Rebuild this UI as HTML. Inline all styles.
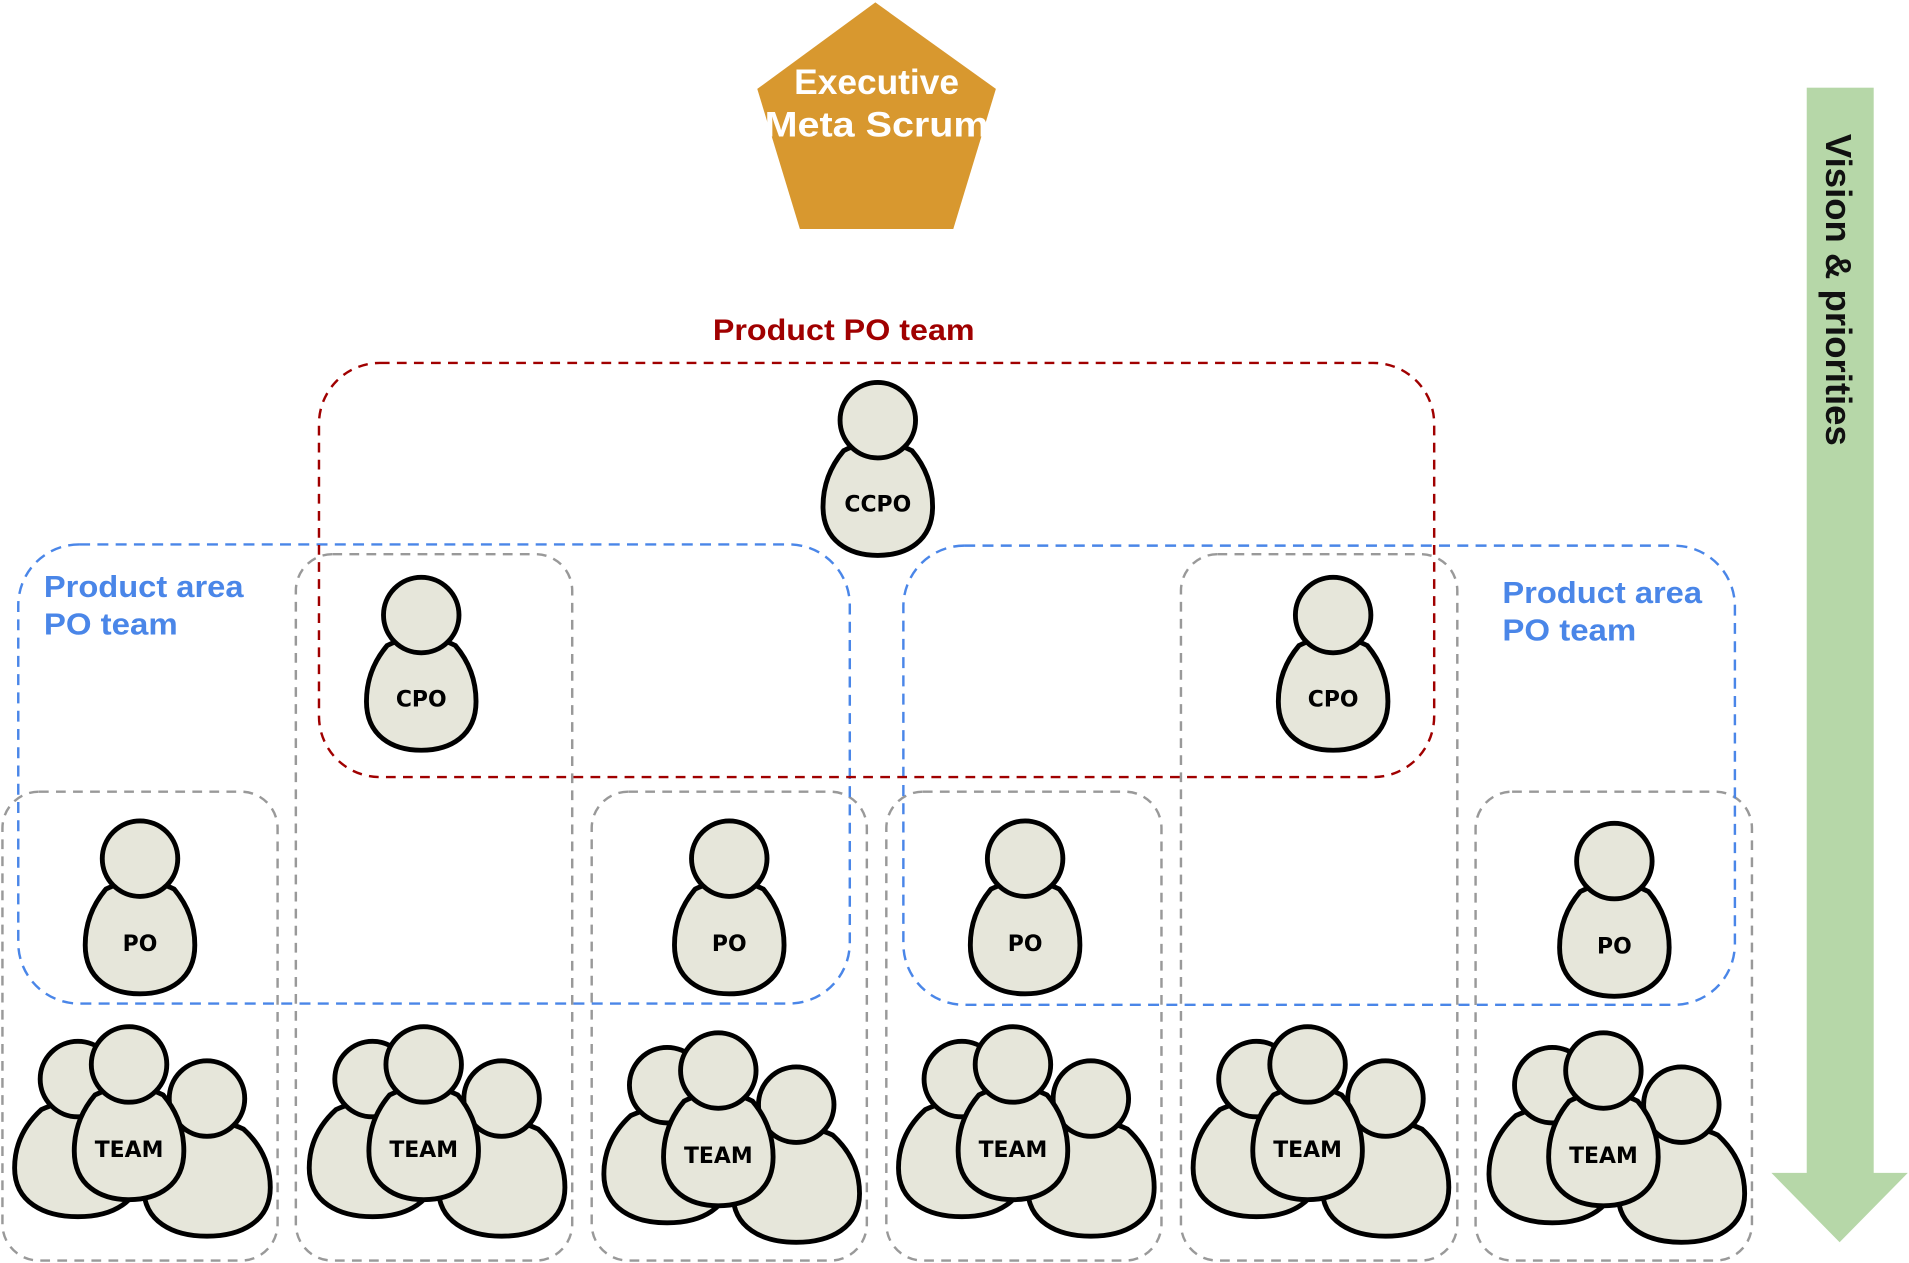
<!DOCTYPE html>
<html><head><meta charset="utf-8"><style>
html,body{margin:0;padding:0;background:#fff;}
svg{display:block;}
.lbl{font-family:"DejaVu Sans","Liberation Sans",sans-serif;font-weight:bold;font-size:18px;text-anchor:middle;fill:#000;}
</style></head><body>
<svg width="1909" height="1263" viewBox="0 0 1568 1037" preserveAspectRatio="none" xmlns="http://www.w3.org/2000/svg">
<defs>
<g id="p">
<path d="M-28,-42 Q-45,-22 -45,4 C-45,32 -24,44 0,44 C24,44 45,32 45,4 Q45,-22 28,-42 Q0,-56 -28,-42 Z" fill="#e6e6da" stroke="#000" stroke-width="4"/>
<circle cx="0" cy="-67" r="31" fill="#e6e6da" stroke="#000" stroke-width="4"/>
</g>
<g id="pw">
<path d="M-30,-42 Q-52,-22 -52,6 C-52,34 -28,46 0,46 C28,46 52,34 52,6 Q52,-22 30,-42 Q0,-56 -30,-42 Z" fill="#e6e6da" stroke="#000" stroke-width="4"/>
<circle cx="0" cy="-67" r="31" fill="#e6e6da" stroke="#000" stroke-width="4"/>
</g>
</defs>

<polygon points="719,2 818,73 783,188 657,188 622,73" fill="#d8982f"/>
<text x="720" y="77" font-family="Liberation Sans, sans-serif" font-weight="bold" font-size="29" fill="#fff" text-anchor="middle">Executive</text>
<text x="720" y="112" font-family="Liberation Sans, sans-serif" font-weight="bold" font-size="29" fill="#fff" text-anchor="middle" textLength="184" lengthAdjust="spacingAndGlyphs">Meta Scrum</text>

<rect x="1484" y="72" width="55" height="893" fill="#b6d7a8"/>
<polygon points="1455,963 1567,963 1511,1020" fill="#b6d7a8"/>
<text transform="translate(1500,238) rotate(90)" font-family="Liberation Sans, sans-serif" font-weight="bold" font-size="30" fill="#111" text-anchor="middle">Vision &amp; priorities</text>

<g fill="none" stroke="#999" stroke-width="2" stroke-dasharray="8,6">
<rect x="2" y="650" width="226" height="385" rx="30"/>
<rect x="243" y="455" width="227" height="580" rx="30"/>
<rect x="486" y="650" width="226" height="385" rx="30"/>
<rect x="728" y="650" width="226" height="385" rx="30"/>
<rect x="970" y="455" width="227" height="580" rx="30"/>
<rect x="1212" y="650" width="227" height="385" rx="30"/>
</g>

<g fill="none" stroke="#4a86e8" stroke-width="2" stroke-dasharray="9,6">
<rect x="15" y="447" width="683" height="377" rx="50"/>
<rect x="742" y="448" width="683" height="377" rx="50"/>
</g>
<g font-family="Liberation Sans, sans-serif" font-weight="bold" font-size="25" fill="#4a86e8">
<text x="36" y="490" textLength="164" lengthAdjust="spacingAndGlyphs">Product area</text>
<text x="36" y="521" textLength="110" lengthAdjust="spacingAndGlyphs">PO team</text>
<text x="1234" y="495" textLength="164" lengthAdjust="spacingAndGlyphs">Product area</text>
<text x="1234" y="526" textLength="110" lengthAdjust="spacingAndGlyphs">PO team</text>
</g>

<rect x="262" y="298" width="916" height="340" rx="50" fill="none" stroke="#a00000" stroke-width="2" stroke-dasharray="8,6"/>
<text x="693" y="279" font-family="Liberation Sans, sans-serif" font-weight="bold" font-size="24" fill="#a00000" text-anchor="middle" textLength="215" lengthAdjust="spacingAndGlyphs">Product PO team</text>

<use href="#p" x="721" y="412"/><text class="lbl" x="721" y="420">CCPO</text>
<use href="#p" x="346" y="572"/><text class="lbl" x="346" y="580">CPO</text>
<use href="#p" x="1095" y="572"/><text class="lbl" x="1095" y="580">CPO</text>
<use href="#p" x="115" y="772"/><text class="lbl" x="115" y="781">PO</text>
<use href="#p" x="599" y="772"/><text class="lbl" x="599" y="781">PO</text>
<use href="#p" x="842" y="772"/><text class="lbl" x="842" y="781">PO</text>
<use href="#p" x="1326" y="774"/><text class="lbl" x="1326" y="783">PO</text>

<g transform="translate(106,943)"><use href="#pw" x="-42" y="10"/><use href="#pw" x="64" y="26"/><use href="#p" x="0" y="-2"/><text class="lbl" x="0" y="7">TEAM</text></g>
<g transform="translate(348,943)"><use href="#pw" x="-42" y="10"/><use href="#pw" x="64" y="26"/><use href="#p" x="0" y="-2"/><text class="lbl" x="0" y="7">TEAM</text></g>
<g transform="translate(590,948)"><use href="#pw" x="-42" y="10"/><use href="#pw" x="64" y="26"/><use href="#p" x="0" y="-2"/><text class="lbl" x="0" y="7">TEAM</text></g>
<g transform="translate(832,943)"><use href="#pw" x="-42" y="10"/><use href="#pw" x="64" y="26"/><use href="#p" x="0" y="-2"/><text class="lbl" x="0" y="7">TEAM</text></g>
<g transform="translate(1074,943)"><use href="#pw" x="-42" y="10"/><use href="#pw" x="64" y="26"/><use href="#p" x="0" y="-2"/><text class="lbl" x="0" y="7">TEAM</text></g>
<g transform="translate(1317,948)"><use href="#pw" x="-42" y="10"/><use href="#pw" x="64" y="26"/><use href="#p" x="0" y="-2"/><text class="lbl" x="0" y="7">TEAM</text></g>
</svg>
</body></html>
